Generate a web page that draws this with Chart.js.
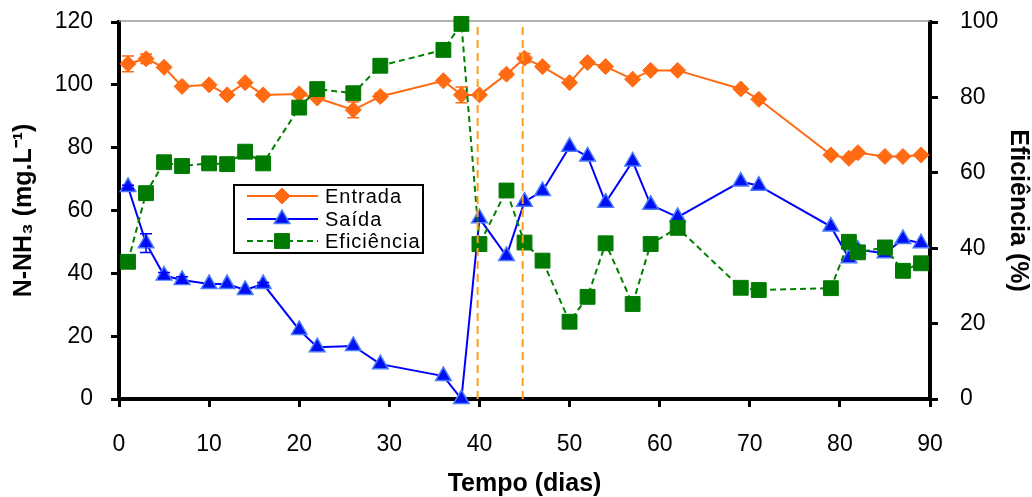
<!DOCTYPE html>
<html>
<head>
<meta charset="utf-8">
<script src="https://cdn.jsdelivr.net/npm/chart.js@4/dist/chart.umd.min.js"></script>
<style>
  html, body { margin: 0; padding: 0; background: #ffffff; }
  #wrap { width: 1032px; height: 497px; }
</style>
</head>
<body>
<div id="wrap"><canvas id="c" width="1032" height="497"></canvas></div>
<script>
// ---- data ----
const dias = [1,3,5,7,10,12,14,16,20,22,26,29,36,38,40,43,45,47,50,52,54,57,59,62,69,71,79,81,82,85,87,89];
const entrada = [106.7,108.3,105.6,99.5,100,96.8,100.7,96.8,97.1,95.8,92,96.3,101.3,96.8,96.8,103.4,108.5,105.8,100.7,107.1,105.8,101.8,104.6,104.6,98.7,95.4,77.7,76.6,78.4,77.2,77.2,77.7];
const entradaErro = [2.5,1.5,0,0,0,0,0,0,0,0,2.5,1,0,2.5,0,1,1.5,0,0,0,0,0,0,0,0,0,0,0,0,0,0,0];
const saida = [67.5,49.6,39.3,37.9,36.6,36.6,34.7,36.6,22,16.5,16.9,11.1,7.3,0,57.5,45.5,62.8,66.2,80.3,77.2,62.5,75.6,61.8,57.9,69.2,67.9,54.9,44.8,47.5,46.4,50.9,49.6];
const saidaErro = [0.5,3,1,1,0,0,0,0.5,0,0,0,0,0,0,0,0,0,0,0,0,0,0,0,0,0,0,0,0,0,0,0,0];
const eficiencia = [36.4,54.6,62.8,61.8,62.5,62.3,65.6,62.5,77.3,82.2,81.1,88.4,92.6,99.5,41.1,55.3,41.5,36.7,20.5,27.1,41.3,25.2,41.1,45.4,29.5,28.9,29.4,41.7,38.9,40.2,34,36];
const marcos = [39.8, 44.8];
const xTicks = [0,10,20,30,40,50,60,70,80,90];
const yLeftTicks = [0,20,40,60,80,100,120];
const yRightTicks = [0,20,40,60,80,100];
const nomes = ['Entrada', 'Saída', 'Eficiência'];

const pts = (vals) => dias.map((d, i) => ({ x: d, y: vals[i] }));

const FONT = "'Liberation Sans', Arial, sans-serif";

const errorBars = {
  id: 'errorBars',
  afterDatasetsDraw(chart) {
    const ctx = chart.ctx;
    const ys = chart.scales.y;
    const sets = [[0, entradaErro], [1, saidaErro]];
    ctx.save();
    sets.forEach(([di, errs]) => {
      const meta = chart.getDatasetMeta(di);
      const col = chart.data.datasets[di].borderColor;
      ctx.strokeStyle = col; ctx.lineWidth = 1.5;
      meta.data.forEach((p, i) => {
        const e = errs[i];
        if (!e) return;
        const v = chart.data.datasets[di].data[i].y;
        const y1 = ys.getPixelForValue(v - e), y2 = ys.getPixelForValue(v + e);
        ctx.beginPath();
        ctx.moveTo(p.x, y1); ctx.lineTo(p.x, y2);
        ctx.moveTo(p.x - 6, y1); ctx.lineTo(p.x + 6, y1);
        ctx.moveTo(p.x - 6, y2); ctx.lineTo(p.x + 6, y2);
        ctx.stroke();
      });
    });
    ctx.restore();
  }
};

const extras = {
  id: 'extras',
  beforeDatasetsDraw(chart) {
    const { ctx, chartArea: a } = chart;
    ctx.save();
    ctx.strokeStyle = '#999999'; ctx.lineWidth = 1.5;
    ctx.beginPath(); ctx.moveTo(a.left, a.top - 1); ctx.lineTo(a.right, a.top - 1); ctx.stroke();
    ctx.restore();
  },
  afterDatasetsDraw(chart) {
    const { ctx, chartArea: a } = chart;
    const xs = chart.scales.x;
    ctx.save();
    ctx.strokeStyle = '#FF9E1B'; ctx.lineWidth = 2; ctx.setLineDash([8, 5]);
    marcos.forEach(m => {
      const px = xs.getPixelForValue(m);
      ctx.beginPath(); ctx.moveTo(px, a.bottom); ctx.lineTo(px, a.top); ctx.stroke();
    });
    ctx.restore();
    // legend box
    const L = 234, T = 185, W = 189, H = 68;
    ctx.save();
    ctx.fillStyle = '#ffffff'; ctx.fillRect(L, T, W, H);
    ctx.strokeStyle = '#000000'; ctx.lineWidth = 2; ctx.strokeRect(L, T, W, H);
    const rows = [196, 219, 241];
    chart.data.datasets.forEach((ds, i) => {
      const y = rows[i];
      ctx.save();
      ctx.strokeStyle = ds.borderColor; ctx.lineWidth = 2;
      ctx.setLineDash(ds.borderDash || []);
      ctx.beginPath(); ctx.moveTo(247, y); ctx.lineTo(318, y); ctx.stroke();
      ctx.setLineDash([]);
      ctx.fillStyle = ds.pointBackgroundColor; ctx.strokeStyle = ds.pointBorderColor; ctx.lineWidth = ds.pointBorderWidth;
      Chart.helpers.drawPoint(ctx, { pointStyle: ds.pointStyle, radius: ds.pointRadius, rotation: 0, borderWidth: ds.pointBorderWidth }, 282, y);
      ctx.restore();
      ctx.fillStyle = '#000000';
      ctx.font = '20px ' + FONT;
      if ('letterSpacing' in ctx) ctx.letterSpacing = '1px';
      ctx.textBaseline = 'middle'; ctx.textAlign = 'left';
      ctx.fillText(nomes[i], 325, y + 1);
    });
    ctx.restore();
  }
};

const tickFont = { family: FONT, size: 23 };
const titleFont = { family: FONT, size: 25, weight: 'bold', lineHeight: 1.0 };

function fitY(w) {
  return s => { s.width = w; s.paddingTop = 0; s.paddingBottom = 0; };
}

new Chart(document.getElementById('c'), {
  type: 'line',
  data: {
    datasets: [
      {
        label: nomes[0], data: pts(entrada), yAxisID: 'y', order: 2,
        borderColor: '#FF6A13', borderWidth: 2, pointStyle: 'rectRot', pointRadius: 8,
        pointBackgroundColor: '#FF6A13', pointBorderColor: '#FF6A13', pointBorderWidth: 1,
        clip: false
      },
      {
        label: nomes[1], data: pts(saida), yAxisID: 'y', order: 1,
        borderColor: '#0000FF', borderWidth: 2, pointStyle: 'triangle', pointRadius: 9,
        pointBackgroundColor: '#0010F0', pointBorderColor: '#4A7BFF', pointBorderWidth: 1.5,
        clip: false
      },
      {
        label: nomes[2], data: pts(eficiencia), yAxisID: 'y2', order: 0,
        borderColor: '#008000', borderWidth: 2, borderDash: [6, 4], pointStyle: 'rect', pointRadius: 10.5,
        pointBackgroundColor: '#007A00', pointBorderColor: '#007A00', pointBorderWidth: 1,
        clip: false
      }
    ]
  },
  options: {
    responsive: false,
    animation: false,
    devicePixelRatio: 1,
    layout: { padding: { top: 22, left: 0, right: 0, bottom: 0 } },
    plugins: { legend: { display: false }, tooltip: { enabled: false } },
    elements: { line: { tension: 0 } },
    scales: {
      x: {
        type: 'linear', min: 0, max: 90,
        afterBuildTicks: s => { s.ticks = xTicks.map(v => ({ value: v })); },
        afterFit: s => { s.height = 497 - 399; s.paddingLeft = 0; s.paddingRight = 0; },
        grid: { drawOnChartArea: false, drawTicks: true, tickLength: 8, color: '#000', lineWidth: 3 },
        border: { color: '#000', width: 4 },
        ticks: { font: tickFont, color: '#000', padding: 24, maxRotation: 0 },
        title: { display: true, text: 'Tempo (dias)', font: titleFont, color: '#000', padding: { top: 0, bottom: 0 } }
      },
      y: {
        type: 'linear', position: 'left', min: 0, max: 120,
        afterBuildTicks: s => { s.ticks = yLeftTicks.map(v => ({ value: v })); },
        afterFit: fitY(119),
        grid: { drawOnChartArea: false, drawTicks: true, tickLength: 8, color: '#000', lineWidth: 3 },
        border: { color: '#000', width: 4 },
        ticks: { font: tickFont, color: '#000', padding: 18 },
        title: { display: true, text: 'N-NH₃ (mg.L⁻¹)', font: titleFont, color: '#000', padding: { top: 12, bottom: 0 } }
      },
      y2: {
        type: 'linear', position: 'right', min: 0, max: 100,
        afterBuildTicks: s => { s.ticks = yRightTicks.map(v => ({ value: v })); },
        afterFit: fitY(1032 - 930),
        grid: { drawOnChartArea: false, drawTicks: true, tickLength: 8, color: '#000', lineWidth: 3 },
        border: { color: '#000', width: 4 },
        ticks: { font: tickFont, color: '#000', padding: 22 },
        title: { display: true, text: 'Eficiência (%)', font: titleFont, color: '#000', padding: { top: 2, bottom: 0 } }
      }
    }
  },
  plugins: [errorBars, extras]
});
</script>
</body>
</html>
